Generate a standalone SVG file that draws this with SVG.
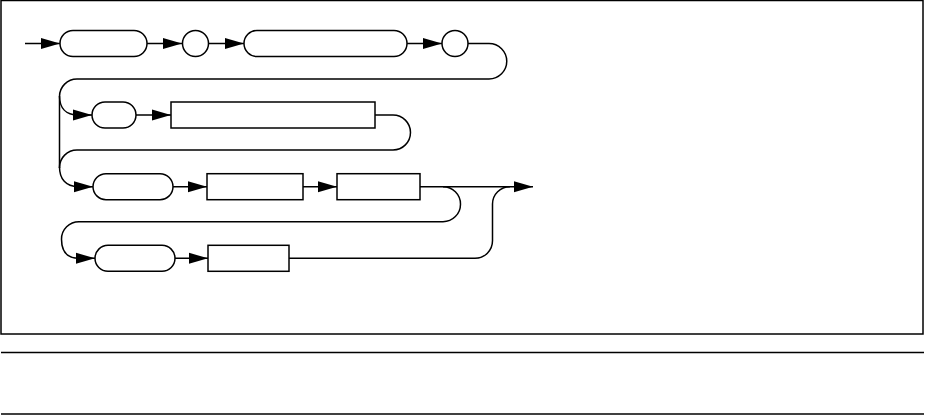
<svg xmlns="http://www.w3.org/2000/svg" width="925" height="415" viewBox="0 0 925 415">
<style>
.s{fill:none;stroke:#000;stroke-width:1.5}
.n{fill:#fff;stroke:#000;stroke-width:1.5}
.a{fill:#000;stroke:none}
</style>
<defs>
<polygon id="ah" points="-19,-5.5 0,0 -19,5.5"/>
</defs>
<rect x="1" y="0.5" width="922" height="333.5" class="s"/>
<line x1="1" y1="352.5" x2="924" y2="352.5" class="s"/>
<line x1="1" y1="414" x2="924" y2="414" class="s"/>
<g id="connectors">
<path class="s" d="M25,43.5 H60 M147,43.5 H182 M209,43.5 H244 M407,43.5 H442 M468,43.5 H489 A17.5,17.5 0 0 1 489,79 H77 A17.5,17.5 0 0 0 59.5,96.5 V168"/>
<path class="s" d="M59.5,96 C59.5,108 66,115 78,115 H92"/>
<path class="s" d="M136,115 H171 M375,115 H393 A17.5,17.5 0 0 1 393,150 H77 A17.5,17.5 0 0 0 59.5,167.5"/>
<path class="s" d="M59.5,167 C59.5,179 66,186.7 78,186.7 H93"/>
<path class="s" d="M173,186.7 H207 M303,186.7 H337 M420,186.7 H533"/>
<path class="s" d="M443,186.7 A17.5,17.5 0 0 1 443,221.7 H79 A17.5,17.5 0 0 0 61.5,239.2 C61.5,251 67,258.3 79,258.3 H95"/>
<path class="s" d="M175,258.3 H208 M289,258.3 H475 A17.5,17.5 0 0 0 492.5,240.8 V204 A17.3,17.3 0 0 1 510,186.7"/>
<use href="#ah" class="a" x="60" y="43.5"/>
<use href="#ah" class="a" x="182" y="43.5"/>
<use href="#ah" class="a" x="244" y="43.5"/>
<use href="#ah" class="a" x="442" y="43.5"/>
<use href="#ah" class="a" x="92" y="115"/>
<use href="#ah" class="a" x="171" y="115"/>
<use href="#ah" class="a" x="93" y="186.7"/>
<use href="#ah" class="a" x="207" y="186.7"/>
<use href="#ah" class="a" x="337" y="186.7"/>
<use href="#ah" class="a" x="533" y="186.7"/>
<use href="#ah" class="a" x="95" y="258.3"/>
<use href="#ah" class="a" x="208" y="258.3"/>
</g>
<g id="n1"><rect class="n" x="60" y="30.5" width="87" height="26" rx="13"/></g>
<g id="n2"><circle class="n" cx="195.5" cy="43.5" r="13"/></g>
<g id="n3"><rect class="n" x="244" y="30.5" width="163" height="26" rx="13"/></g>
<g id="n4"><circle class="n" cx="455" cy="43.5" r="13"/></g>
<g id="n5"><rect class="n" x="92" y="102" width="44" height="26" rx="13"/></g>
<g id="n6"><rect class="n" x="171" y="102" width="204" height="26"/></g>
<g id="n7"><rect class="n" x="93" y="173.7" width="80" height="26" rx="13"/></g>
<g id="n8"><rect class="n" x="207" y="173.7" width="96" height="26"/></g>
<g id="n9"><rect class="n" x="337" y="173.7" width="83" height="26"/></g>
<g id="n10"><rect class="n" x="95" y="245.3" width="80" height="26" rx="13"/></g>
<g id="n11"><rect class="n" x="208" y="245.3" width="81" height="26"/></g>
</svg>
